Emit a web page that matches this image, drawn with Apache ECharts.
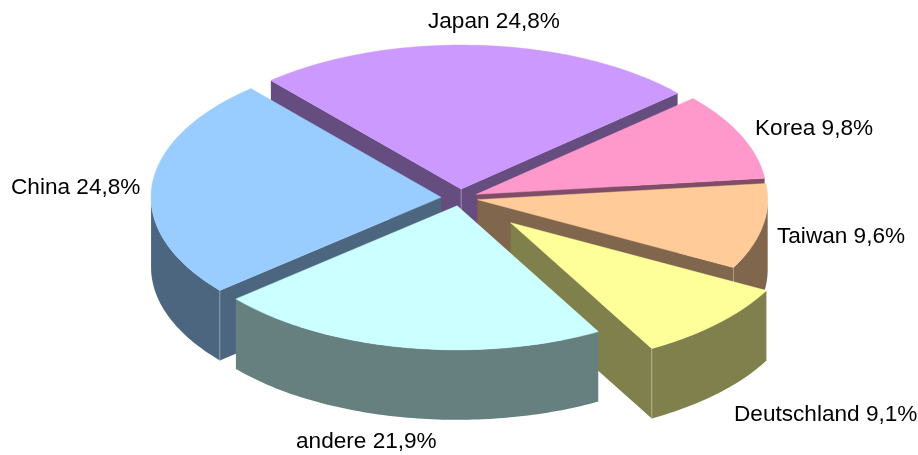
<!DOCTYPE html>
<html>
<head>
<meta charset="utf-8">
<style>html,body{margin:0;padding:0;background:#fff}#c{width:918px;height:455px}</style>
<script src="https://cdn.jsdelivr.net/npm/echarts@6/dist/echarts.min.js"></script>
</head>
<body>
<div id="c"></div>
<script>
// Data
var categories = ['Japan', 'Korea', 'Taiwan', 'Deutschland', 'andere', 'China'];
var shares = [24.8, 9.8, 9.6, 9.1, 21.9, 24.8];

// Style
var topColors = ['#CC99FF', '#FF99CC', '#FFCC99', '#FFFF99', '#CCFFFF', '#99CCFF'];
var wallColors = ['#664D80', '#804D66', '#80664D', '#80804D', '#668080', '#4D6680'];
var cornerColors = ['#9C8AAE', '#AE8A9C', '#AE9C8A', '#AEAE8A', '#8AA4A4', '#8A9CAE'];
var explode = [18, 18, 18, 71, 16, 19];
var paintOrder = [0, 1, 2, 3, 5, 4];
var labelX = [428, 755, 777, 734, 296, 11];
var labelY = [21.5, 128.5, 236.5, 414.5, 441.5, 187.5];
var CX = 460, CY = 198, RX = 290, RY = 144, DEPTH = 70, START_DEG = -41;

var total = shares.reduce(function (a, b) { return a + b; }, 0);
var startAngles = [];
shares.reduce(function (acc, v, i) { startAngles[i] = acc; return acc + v / total * 360; }, START_DEG);

function rad(d) { return d * Math.PI / 180; }

function renderSlice(params, api) {
  var i = api.value(0);
  var sweep = api.value(1) / total * 360;
  var a0 = startAngles[i], a1 = a0 + sweep, mid = a0 + sweep / 2;
  var ax = CX + explode[i] * Math.sin(rad(mid));
  var ay = CY - explode[i] * Math.cos(rad(mid)) * RY / RX;
  var rimAt = function (d) { return [ax + RX * Math.sin(rad(d)), ay - RY * Math.cos(rad(d))]; };
  var arc = function (from, to) {
    var pts = [], steps = Math.max(1, Math.ceil(to - from));
    for (var k = 0; k <= steps; k++) pts.push(rimAt(from + (to - from) * k / steps));
    return pts;
  };
  var down = function (p) { return [p[0], p[1] + DEPTH]; };
  var rim = arc(a0, a1);
  var first = rimAt(a0), last = rimAt(a1), apex = [ax, ay];
  var wallStyle = { fill: wallColors[i] };
  var poly = function (pts, style) { return { type: 'polygon', shape: { points: pts }, style: style, silent: true }; };
  var vline = function (p) {
    return { type: 'line', shape: { x1: p[0], y1: p[1], x2: p[0], y2: p[1] + DEPTH },
             style: { stroke: cornerColors[i], lineWidth: 1 }, silent: true };
  };
  var startVisible = Math.sin(rad(a0)) < 0, endVisible = Math.sin(rad(a1)) > 0;
  var children = [];
  if (startVisible) children.push(poly([apex, first, down(first), down(apex)], wallStyle));
  if (endVisible) children.push(poly([apex, last, down(last), down(apex)], wallStyle));
  var f0 = Math.max(a0, 90), f1 = Math.min(a1, 270);
  if (f1 > f0) {
    var front = arc(f0, f1);
    children.push(poly(front.concat(front.map(down).reverse()), wallStyle));
  }
  if (startVisible && endVisible) children.push(vline(apex));
  if (startVisible && a0 > 90 && a0 < 270) children.push(vline(first));
  if (endVisible && a1 > 90 && a1 < 270) children.push(vline(last));
  children.push(poly([apex].concat(rim), { fill: topColors[i], stroke: topColors[i], lineWidth: 0.5 }));
  children.push({ type: 'text', silent: true,
    style: { x: labelX[i], y: labelY[i], text: categories[i] + ' ' + String(shares[i]).replace('.', ',') + '%',
             fill: '#000', font: '22.6px "Liberation Sans", Arial, sans-serif', align: 'left', verticalAlign: 'middle' } });
  return { type: 'group', children: children };
}

var chart = echarts.init(document.getElementById('c'), null, { renderer: 'canvas' });
chart.setOption({
  animation: false,
  backgroundColor: '#ffffff',
  series: [{
    type: 'custom',
    coordinateSystem: 'none',
    renderItem: renderSlice,
    encode: { value: 1 },
    data: paintOrder.map(function (i) { return [i, shares[i]]; })
  }]
});
</script>
</body>
</html>
